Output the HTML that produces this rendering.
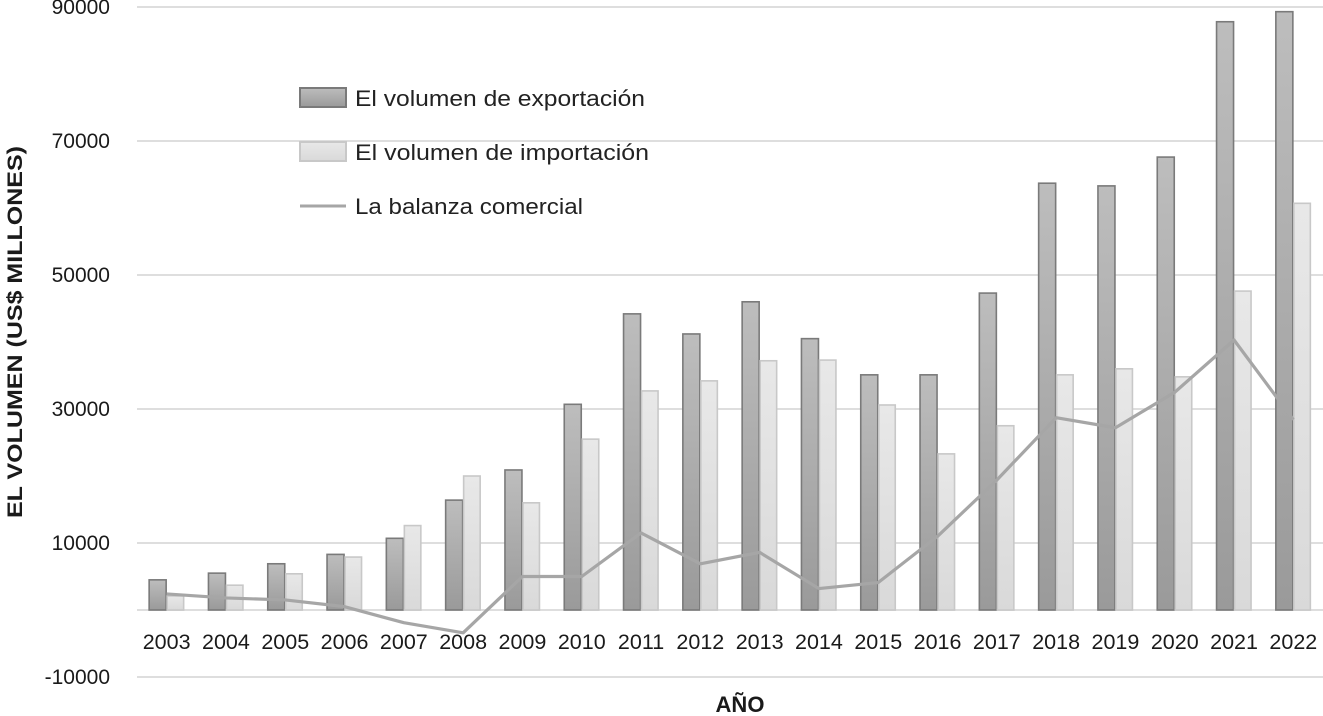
<!DOCTYPE html>
<html><head><meta charset="utf-8"><style>
body{margin:0;background:#fff;}
svg{display:block;font-family:"Liberation Sans",sans-serif;}
</style></head><body>
<svg id="chart" width="1323" height="716" viewBox="0 0 1323 716">
<defs>
<linearGradient id="gDark" x1="0" y1="0" x2="0" y2="1"><stop offset="0" stop-color="#bdbdbd"/><stop offset="1" stop-color="#9a9a9a"/></linearGradient>
<linearGradient id="gLight" x1="0" y1="0" x2="0" y2="1"><stop offset="0" stop-color="#e8e8e8"/><stop offset="1" stop-color="#d9d9d9"/></linearGradient>
</defs>
<g id="grid"></g><g id="bars"></g><g id="line"></g><g id="labels"></g>
<text transform="translate(22,332) rotate(-90)" text-anchor="middle" font-size="21" font-weight="bold" fill="#1a1a1a" textLength="372" lengthAdjust="spacingAndGlyphs">EL VOLUMEN (US$ MILLONES)</text>
<text x="740" y="716" dy="-4" text-anchor="middle" font-size="22" font-weight="bold" fill="#1a1a1a">AÑO</text>
<g>
<rect x="300" y="88" width="46" height="19" fill="url(#gDark)" stroke="#7a7a7a" stroke-width="2"/>
<text x="355" y="106" font-size="22" fill="#222" textLength="290" lengthAdjust="spacingAndGlyphs">El volumen de exportación</text>
<rect x="300" y="142" width="46" height="19" fill="url(#gLight)" stroke="#c8c8c8" stroke-width="2"/>
<text x="355" y="160" font-size="22" fill="#222" textLength="294" lengthAdjust="spacingAndGlyphs">El volumen de importación</text>
<line x1="300" y1="206" x2="346" y2="206" stroke="#a6a6a6" stroke-width="3"/>
<text x="355" y="214" font-size="22" fill="#222" textLength="228" lengthAdjust="spacingAndGlyphs">La balanza comercial</text>
</g>
</svg>
<script>
const years=[2003,2004,2005,2006,2007,2008,2009,2010,2011,2012,2013,2014,2015,2016,2017,2018,2019,2020,2021,2022];
const exportVals=[4500,5500,6900,8300,10700,16400,20900,30700,44200,41200,46000,40500,35100,35100,47300,63700,63300,67600,87800,89300];
const importVals=[2100,3700,5400,7900,12600,20000,16000,25500,32700,34200,37200,37300,30600,23300,27500,35100,36000,34800,47600,60700];
const balanceVals=[2400,1800,1500,500,-1900,-3400,5000,5000,11500,6900,8600,3200,4100,11000,19400,28700,27200,32500,40300,28400];
const yTicks=[-10000,10000,30000,50000,70000,90000];
const NS="http://www.w3.org/2000/svg";
const x0=137,step=59.3;
function xC(i){return x0+step*(i+0.5);}
function yS(v){return 610-v*67/10000;}
function mk(tag,attrs,parent){const e=document.createElementNS(NS,tag);for(const k in attrs)e.setAttribute(k,attrs[k]);parent.appendChild(e);return e;}
const grid=document.getElementById('grid'),bars=document.getElementById('bars'),lineG=document.getElementById('line'),labels=document.getElementById('labels');
[...yTicks,0].forEach(v=>{
  const l=mk('line',{x1:x0,x2:1323,y1:yS(v),y2:yS(v),stroke:'#dedede','stroke-width':2},grid);
  
  
});
yTicks.forEach(v=>{
  const t=mk('text',{x:110,y:yS(v)+7,'text-anchor':'end','font-size':21,fill:'#1a1a1a'},labels);
  t.textContent=v;
  
  
});
years.forEach((yr,i)=>{
  const c=xC(i);
  const e=mk('rect',{x:c-17.5,y:yS(exportVals[i]),width:17,height:yS(0)-yS(exportVals[i]),fill:'url(#gDark)',stroke:'#7a7a7a','stroke-width':1.6},bars);
  
  
  const m=mk('rect',{x:c+0.5,y:yS(importVals[i]),width:16.5,height:yS(0)-yS(importVals[i]),fill:'url(#gLight)',stroke:'#c8c8c8','stroke-width':1.6},bars);
  
  
  const t=mk('text',{x:c,y:649,'text-anchor':'middle','font-size':21.5,fill:'#1a1a1a'},labels);
  t.textContent=yr;
  
  
});
const pts=balanceVals.map((v,i)=>xC(i)+','+yS(v)).join(' ');
const pl=mk('polyline',{points:pts,fill:'none',stroke:'#a6a6a6','stroke-width':3.2,'stroke-linejoin':'round'},lineG);


</script>
</body></html>
